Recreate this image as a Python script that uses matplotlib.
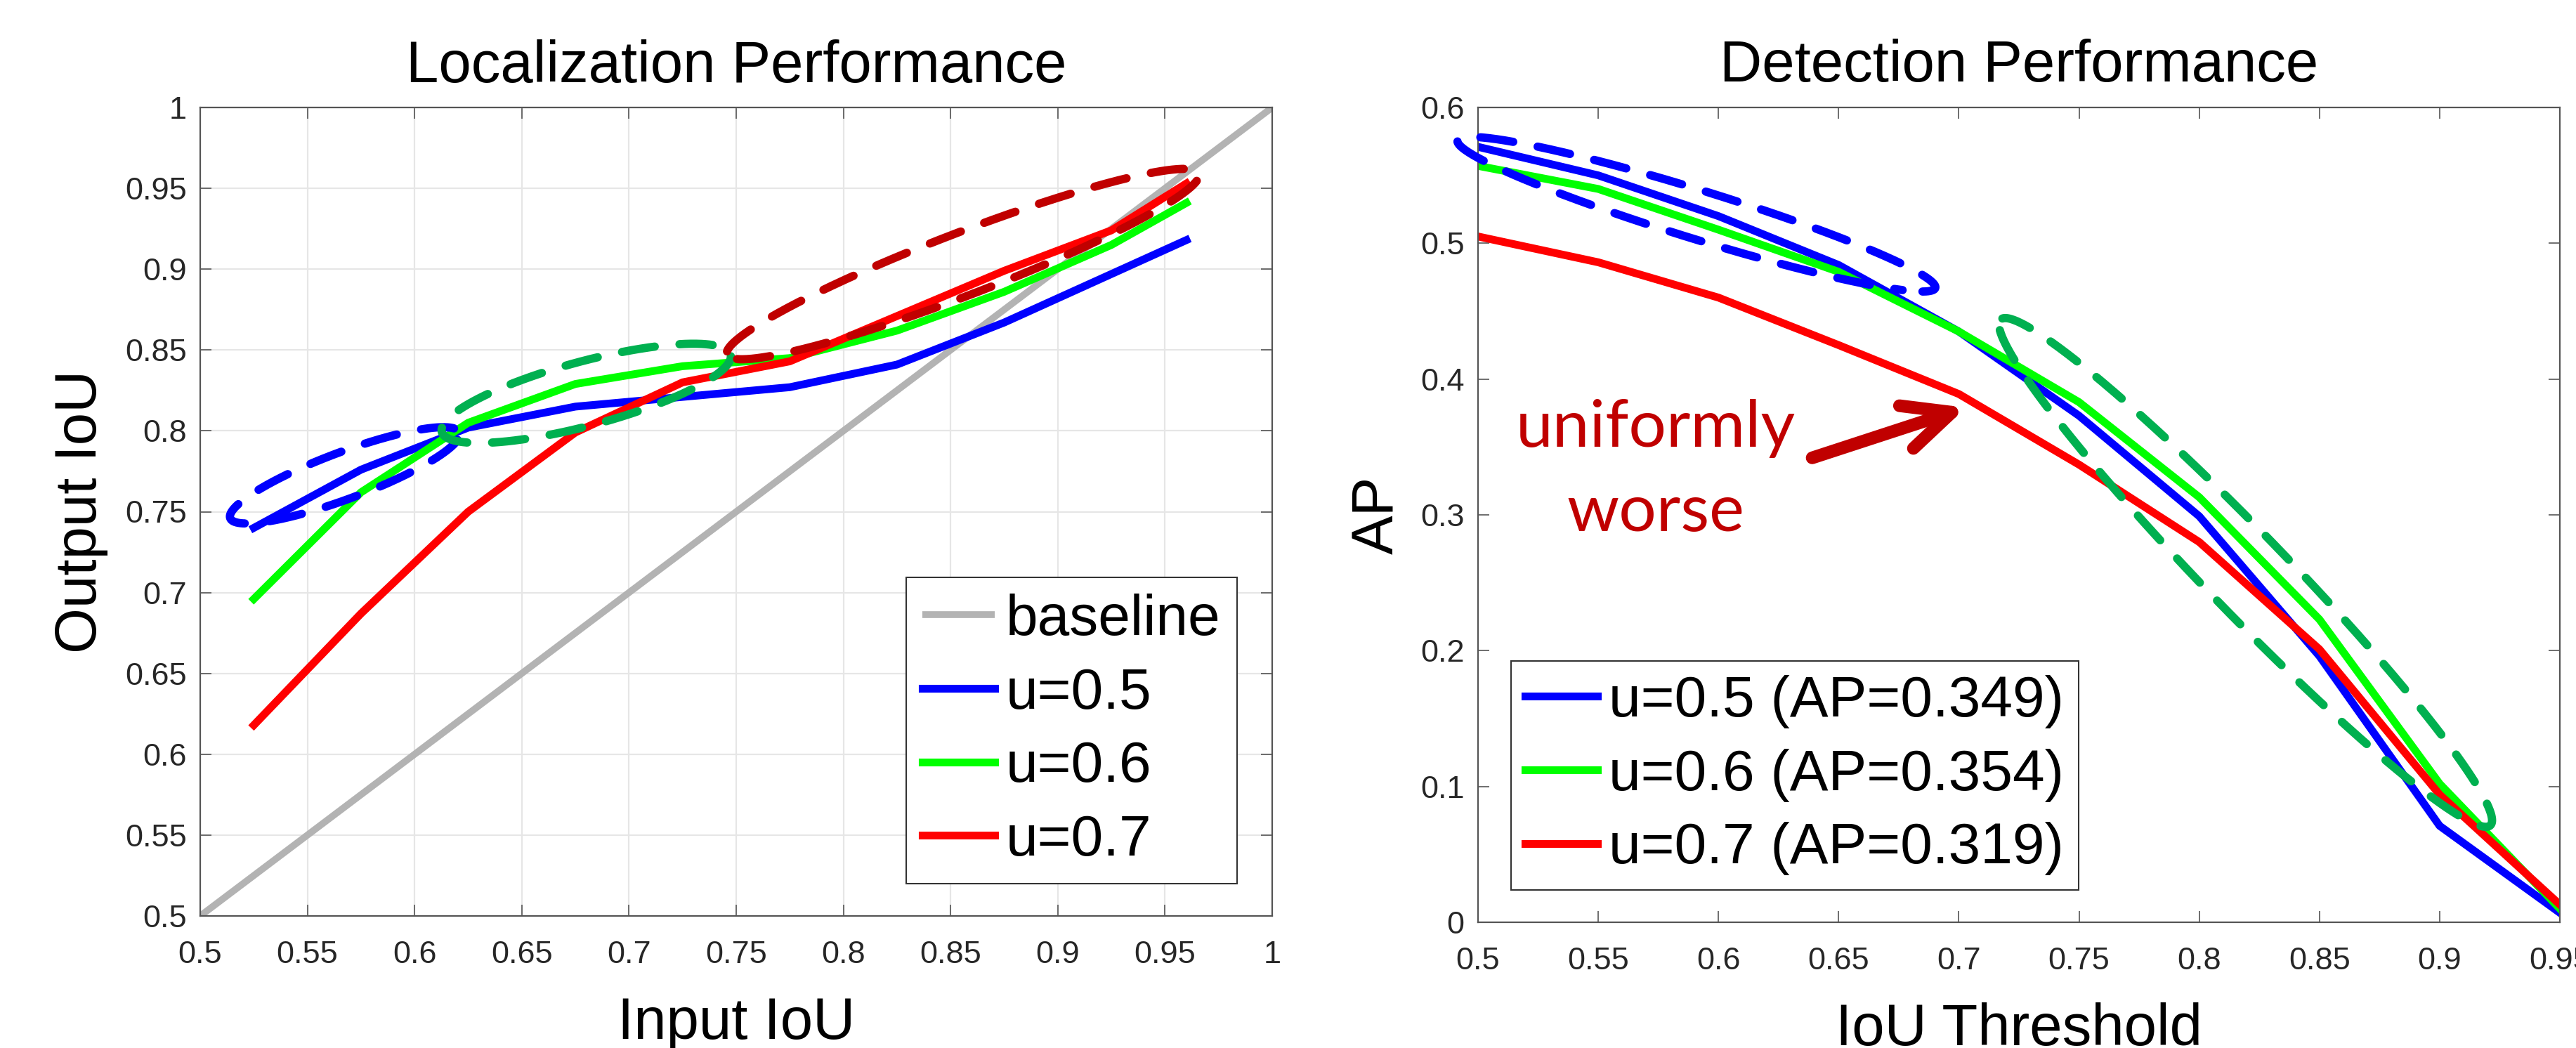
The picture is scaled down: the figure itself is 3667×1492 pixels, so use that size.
import numpy as np
import matplotlib
matplotlib.use("Agg")
import matplotlib.pyplot as plt
from matplotlib.ticker import FixedLocator, FuncFormatter

# ---------------- data ----------------
# Left: Localization performance
input_iou = [0.525, 0.575, 0.625, 0.675, 0.725, 0.775, 0.825, 0.875, 0.925, 0.96]
loc_u05 = [0.740, 0.776, 0.802, 0.815, 0.821, 0.827, 0.841, 0.867, 0.897, 0.918]
loc_u06 = [0.696, 0.762, 0.805, 0.829, 0.840, 0.845, 0.862, 0.886, 0.915, 0.941]
loc_u07 = [0.618, 0.687, 0.750, 0.799, 0.830, 0.843, 0.871, 0.899, 0.924, 0.953]
baseline_iou = [0.5, 1.0]
loc_labels = ["baseline", "u=0.5", "u=0.6", "u=0.7"]
loc_ticks = [0.5, 0.55, 0.6, 0.65, 0.7, 0.75, 0.8, 0.85, 0.9, 0.95, 1.0]

# Right: Detection performance
iou_thresh = [0.5, 0.55, 0.6, 0.65, 0.7, 0.75, 0.8, 0.85, 0.9, 0.95]
ap_u05 = [0.571, 0.550, 0.520, 0.484, 0.435, 0.373, 0.299, 0.196, 0.071, 0.007]
ap_u06 = [0.557, 0.540, 0.510, 0.479, 0.435, 0.383, 0.313, 0.223, 0.102, 0.010]
ap_u07 = [0.505, 0.486, 0.460, 0.425, 0.389, 0.337, 0.280, 0.201, 0.094, 0.013]
det_labels = ["u=0.5 (AP=0.349)", "u=0.6 (AP=0.354)", "u=0.7 (AP=0.319)"]
det_xticks = [0.5, 0.55, 0.6, 0.65, 0.7, 0.75, 0.8, 0.85, 0.9, 0.95]
det_yticks = [0.0, 0.1, 0.2, 0.3, 0.4, 0.5, 0.6]

# hand-drawn dashed ellipses: (end A, end B) of the long axis in data coords
loc_ellipse_ends = [((0.514, 0.746), (0.621, 0.799)),
                    ((0.6127, 0.7993), (0.7474, 0.8471)),
                    ((0.7457, 0.8471), (0.9659, 0.9592))]
det_ellipse_ends = [((0.4915, 0.5757), (0.6902, 0.4671)),
                    ((0.7174, 0.4438), (0.9211, 0.0714))]
note_lines = ["uniformly", "worse"]

# ---------------- style ----------------
W, H, DPI = 3667, 1492, 100
plt.rcParams["font.family"] = ["Liberation Sans", "DejaVu Sans"]

BLUE, GREEN, RED, GRAY = "#0000FF", "#00FF00", "#FF0000", "#B3B3B3"
EBLUE, EGREEN, ERED = "#0000FF", "#00B050", "#C00000"
LW = 8

fig = plt.figure(figsize=(W / DPI, H / DPI), dpi=DPI)


def rect(x0, y0, x1, y1):
    return [x0 / W, 1 - y1 / H, (x1 - x0) / W, (y1 - y0) / H]


ax1 = fig.add_axes(rect(285, 153, 1811, 1304))
ax2 = fig.add_axes(rect(2104, 153, 3644, 1313))

fmt = FuncFormatter(lambda v, p: f"{round(v, 3):g}")


def style(ax):
    for s in ax.spines.values():
        s.set_color("#555555")
        s.set_linewidth(1.6)
    ax.tick_params(which="both", direction="in", top=True, right=True,
                   length=11.5, width=1.2, color="#555555",
                   labelsize=32.5, labelcolor="#262626")
    ax.tick_params(axis="x", pad=25)
    ax.tick_params(axis="y", pad=14)
    ax.xaxis.set_major_formatter(fmt)
    ax.yaxis.set_major_formatter(fmt)


# ---- left chart ----
ax1.plot(baseline_iou, baseline_iou, color=GRAY, lw=7, label=loc_labels[0],
         solid_capstyle="butt")
ax1.plot(input_iou, loc_u05, color=BLUE, lw=LW, label=loc_labels[1], solid_joinstyle="round")
ax1.plot(input_iou, loc_u06, color=GREEN, lw=LW, label=loc_labels[2], solid_joinstyle="round")
ax1.plot(input_iou, loc_u07, color=RED, lw=LW, label=loc_labels[3], solid_joinstyle="round")
ax1.set_xlim(0.5, 1.0)
ax1.set_ylim(0.5, 1.0)
ax1.xaxis.set_major_locator(FixedLocator(loc_ticks))
ax1.yaxis.set_major_locator(FixedLocator(loc_ticks))
style(ax1)
ax1.grid(True, color="#E6E6E6", lw=1.6)
ax1.set_axisbelow(True)
ax1.set_title("Localization Performance", fontsize=60, y=1.031, pad=0)
ax1.set_xlabel("Input IoU", fontsize=60)
ax1.set_ylabel("Output IoU", fontsize=60)
ax1.xaxis.set_label_coords(0.5, -0.099)
ax1.yaxis.set_label_coords(-0.086, 0.5)
leg1 = ax1.legend(loc="lower right", bbox_to_anchor=(0.967, 0.040), fontsize=59,
                  handlelength=1.25, handletextpad=0.2, labelspacing=0.35,
                  borderpad=0.28, borderaxespad=0, fancybox=False, framealpha=1)
leg1.get_frame().set_edgecolor("#333333")
leg1.get_frame().set_linewidth(1.5)

# ---- right chart ----
ax2.plot(iou_thresh, ap_u05, color=BLUE, lw=LW, label=det_labels[0], solid_joinstyle="round")
ax2.plot(iou_thresh, ap_u06, color=GREEN, lw=LW, label=det_labels[1], solid_joinstyle="round")
ax2.plot(iou_thresh, ap_u07, color=RED, lw=LW, label=det_labels[2], solid_joinstyle="round")
ax2.set_xlim(0.5, 0.95)
ax2.set_ylim(0.0, 0.6)
ax2.xaxis.set_major_locator(FixedLocator(det_xticks))
ax2.yaxis.set_major_locator(FixedLocator(det_yticks))
style(ax2)
ax2.set_title("Detection Performance", fontsize=60, y=1.032, pad=0)
ax2.set_xlabel("IoU Threshold", fontsize=60)
ax2.set_ylabel("AP", fontsize=60)
ax2.xaxis.set_label_coords(0.5, -0.098)
ax2.yaxis.set_label_coords(-0.067, 0.5)
leg2 = ax2.legend(loc="lower left", bbox_to_anchor=(0.0305, 0.0397), fontsize=59,
                  handlelength=1.25, handletextpad=0.2, labelspacing=0.35,
                  borderpad=0.25, borderaxespad=0, fancybox=False, framealpha=1)
leg2.get_frame().set_edgecolor("#333333")
leg2.get_frame().set_linewidth(1.5)


# ---- dashed ellipses ----
def dashed_ellipse(ax, ends, half_w_pt, color, t0, t1):
    T = ax.transData
    a = T.transform(ends[0])
    b = T.transform(ends[1])
    c = (a + b) / 2
    d = b - a
    L = np.hypot(*d) / 2
    u = d / (2 * L)
    n = np.array([-u[1], u[0]])
    bw = half_w_pt * DPI / 72
    t = np.linspace(t0, t1, 500)
    pts = c + np.outer(L * np.cos(t), u) + np.outer(bw * np.sin(t), n)
    dat = T.inverted().transform(pts)
    ax.plot(dat[:, 0], dat[:, 1], color=color, lw=8.5, ls=(0, (4, 3.0)),
            dash_capstyle="round", clip_on=False, zorder=5)


TWO_PI = 2 * np.pi
dashed_ellipse(ax1, loc_ellipse_ends[0], 24, EBLUE, 0.25, TWO_PI - 0.15)
dashed_ellipse(ax1, loc_ellipse_ends[1], 33, EGREEN, 0.45, TWO_PI - 0.05)
dashed_ellipse(ax1, loc_ellipse_ends[2], 32, ERED, np.pi + 0.25, 3 * np.pi - 0.1)
dashed_ellipse(ax2, det_ellipse_ends[0], 25, EBLUE, -0.3, TWO_PI - 0.5)
dashed_ellipse(ax2, det_ellipse_ends[1], 41, EGREEN, np.pi + 0.2, 3 * np.pi - 0.05)

# ---- annotation text + arrow ----
ax2.text(0.574, 0.350, note_lines[0], ha="center", va="baseline",
         fontsize=68, color=ERED, family=["Lato", "DejaVu Sans"], zorder=6)
ax2.text(0.574, 0.288, note_lines[1], ha="center", va="baseline",
         fontsize=68, color=ERED, family=["Lato", "DejaVu Sans"], zorder=6)
ax2.annotate("", xy=(0.703, 0.379), xytext=(0.639, 0.342),
             arrowprops=dict(arrowstyle="->,head_length=0.49,head_width=0.23",
                             mutation_scale=100, lw=13, color=ERED,
                             shrinkA=0, shrinkB=0, capstyle="round",
                             joinstyle="round"), zorder=6)

fig.savefig("out.png", dpi=DPI)
